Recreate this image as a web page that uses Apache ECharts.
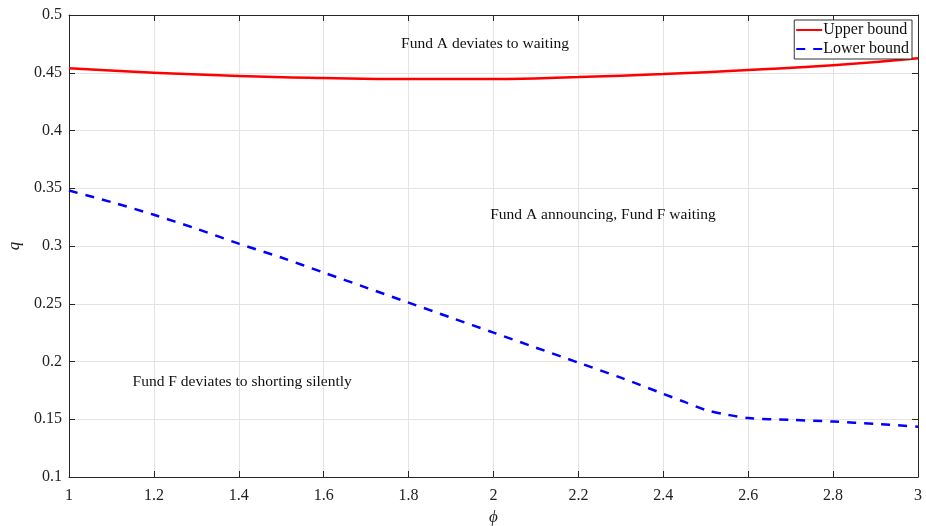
<!DOCTYPE html>
<html>
<head>
<meta charset="utf-8">
<script src="https://cdn.jsdelivr.net/npm/echarts@6/dist/echarts.min.js"></script>
<style>
  html, body { margin: 0; padding: 0; background: #fff; }
  #chart { width: 926px; height: 526px; }
</style>
</head>
<body>
<div id="chart"></div>
<script>
// phi grid and the two boundary curves
const phiUpper = [1.0, 1.2, 1.4, 1.6, 1.8, 2.0, 2.2, 2.4, 2.6, 2.8, 3.0];
const upperBound = [0.4538, 0.4500, 0.4472, 0.4455, 0.4446, 0.4446, 0.4463, 0.4489, 0.4524, 0.4564, 0.4625];

const phiLower = [1.0, 1.1, 1.2, 1.3, 1.4, 1.5, 1.6, 1.7, 1.8, 1.9, 2.0, 2.1, 2.2, 2.3, 2.4, 2.45, 2.5, 2.55, 2.6, 2.7, 2.8, 2.9, 3.0];
const lowerBound = [0.348, 0.338, 0.327, 0.315, 0.302, 0.290, 0.277, 0.264, 0.251, 0.238, 0.225, 0.212, 0.199, 0.186, 0.172, 0.165, 0.158, 0.154, 0.151, 0.1495, 0.148, 0.146, 0.1435];

// region annotations: [phi, q, text]
const regionLabels = [
  [1.98, 0.475, 'Fund A deviates to waiting'],
  [2.258, 0.327, 'Fund A announcing, Fund F waiting'],
  [1.408, 0.182, 'Fund F deviates to shorting silently']
];

const xTicks = { min: 1, max: 3, interval: 0.2 };
const yTicks = { min: 0.1, max: 0.5, interval: 0.05 };

const serif = '"Liberation Serif", "DejaVu Serif", serif';
const axisColor = '#262626';
const gridColor = '#e3e3e3';

function pairs(xs, ys) { return xs.map((x, i) => [x, ys[i]]); }

const chart = echarts.init(document.getElementById('chart'), null, { renderer: 'canvas' });

const baseX = {
  type: 'value', min: xTicks.min, max: xTicks.max, interval: xTicks.interval,
  axisLine: { show: true, onZero: false, lineStyle: { color: axisColor, width: 1 } },
  axisTick: { show: true, inside: true, length: 6, lineStyle: { color: axisColor } },
  splitLine: { show: false }
};
const baseY = {
  type: 'value', min: yTicks.min, max: yTicks.max, interval: yTicks.interval,
  axisLine: { show: true, onZero: false, lineStyle: { color: axisColor, width: 1 } },
  axisTick: { show: true, inside: true, length: 6, lineStyle: { color: axisColor } },
  splitLine: { show: false }
};

chart.setOption({
  animation: false,
  backgroundColor: '#fff',
  grid: { left: 69, right: 8, top: 15, bottom: 49, containLabel: false, outerBoundsMode: 'none' },
  legend: {
    right: 14, top: 20,
    orient: 'vertical',
    itemGap: 3,
    itemWidth: 26, itemHeight: 12,
    padding: [2, 3, 2, 1],
    backgroundColor: '#fff',
    borderColor: '#333', borderWidth: 1, borderRadius: 0,
    itemStyle: { opacity: 0 },
    textStyle: { fontFamily: serif, fontSize: 16, color: '#111', padding: [0, 0, 0, -4] },
    data: ['Upper bound', 'Lower bound']
  },
  xAxis: [
    Object.assign({}, baseX, {
      position: 'bottom',
      name: 'ϕ', nameLocation: 'middle', nameGap: 31,
      nameTextStyle: { fontFamily: serif, fontSize: 17, fontStyle: 'italic', color: '#222' },
      axisLabel: { fontFamily: serif, fontSize: 16, color: '#222', margin: 11,
        formatter: v => String(+v.toFixed(1)) },
      splitLine: { show: true, lineStyle: { color: gridColor, width: 1 } }
    }),
    Object.assign({}, baseX, { position: 'top', axisLabel: { show: false } })
  ],
  yAxis: [
    Object.assign({}, baseY, {
      position: 'left',
      name: 'q', nameLocation: 'middle', nameGap: 38,
      nameTextStyle: { fontFamily: serif, fontSize: 17, fontStyle: 'italic', color: '#222' },
      axisLabel: { fontFamily: serif, fontSize: 16, color: '#222', margin: 7,
        formatter: v => String(+v.toFixed(2)) },
      splitLine: { show: true, lineStyle: { color: gridColor, width: 1 } }
    }),
    Object.assign({}, baseY, { position: 'right', axisLabel: { show: false } })
  ],
  series: [
    {
      name: 'Upper bound', type: 'line', smooth: true, symbol: 'none',
      data: pairs(phiUpper, upperBound),
      lineStyle: { color: '#ff0000', width: 2.5 },
      itemStyle: { color: '#ff0000' },
      z: 3
    },
    {
      name: 'Lower bound', type: 'line', smooth: 0.3, symbol: 'none',
      data: pairs(phiLower, lowerBound),
      lineStyle: { color: '#0000ff', width: 2.5, type: [9, 8] },
      itemStyle: { color: '#0000ff' },
      z: 3
    },
    {
      name: 'regions', type: 'scatter', symbolSize: 1, silent: true,
      data: regionLabels.map(r => ({ value: [r[0], r[1]], text: r[2] })),
      itemStyle: { color: 'transparent', opacity: 1 },
      label: {
        show: true, position: 'inside',
        fontFamily: serif, fontSize: 15.5, color: '#111',
        formatter: p => p.data.text
      },
      z: 2
    }
  ]
});
</script>
</body>
</html>
